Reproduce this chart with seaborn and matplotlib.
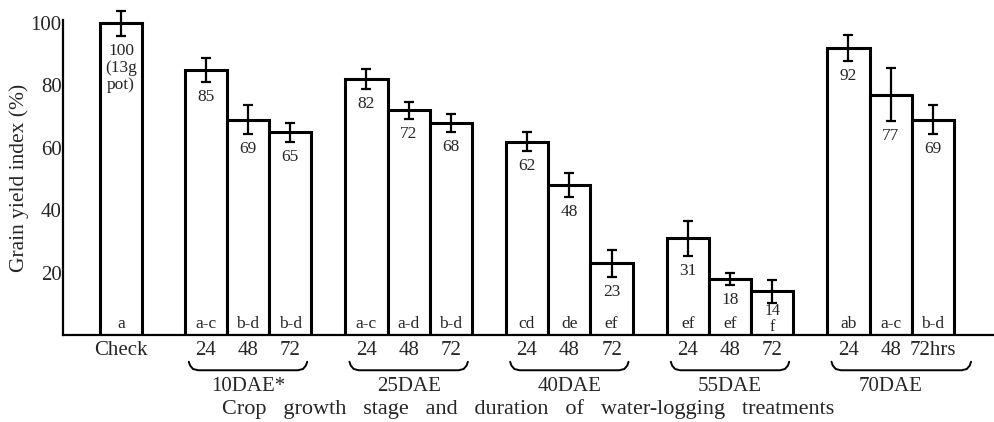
import numpy as np
import pandas as pd
import matplotlib
matplotlib.use('Agg')
import matplotlib.pyplot as plt
import matplotlib.transforms as mtransforms
import seaborn as sns

# Data
stages = ['10DAE*', '25DAE', '40DAE', '55DAE', '70DAE']
hours = ['24', '48', '72']
tick_labels = ['Check',
               '24', '48', '72',
               '24', '48', '72',
               '24', '48', '72',
               '24', '48', '72',
               '24', '48', '72hrs']
yield_index = [100, 85, 69, 65, 82, 72, 68, 62, 48, 23, 31, 18, 14, 92, 77, 69]
yield_err = [4.0, 3.8, 4.6, 3.0, 3.2, 2.8, 2.8, 3.0, 3.9, 4.4, 5.6, 2.0, 3.7, 4.3, 8.5, 4.7]
value_labels = ['100\n(13g\npot)', '85', '69', '65', '82', '72', '68', '62', '48', '23',
                '31', '18', '14', '92', '77', '69']
letters = ['a', 'a-c', 'b-d', 'b-d', 'a-c', 'a-d', 'b-d', 'cd', 'de', 'ef',
           'ef', 'ef', 'f', 'ab', 'a-c', 'b-d']

# layout: check bar, then 5 groups of 3 contiguous bars
check_gap = 1.0
group_gap = 0.8
x_pos = [0.0]
first = 0.5 + check_gap + 0.5
for g in range(len(stages)):
    for j in range(len(hours)):
        x_pos.append(first + g * (len(hours) + group_gap) + j)

df = pd.DataFrame({'x': x_pos, 'y': yield_index})

sns.set_style('white')
plt.rcParams['font.family'] = ['Liberation Serif', 'DejaVu Serif']

fig = plt.figure(figsize=(9.94, 4.22), dpi=100)
ax = fig.add_axes([0.0634, 0.2062, 0.9356, 0.7464])

sns.barplot(data=df, x='x', y='y', native_scale=True, width=1.0, errorbar=None,
            color='white', edgecolor='black', linewidth=2.2, ax=ax)

ax.errorbar(x_pos, yield_index, yerr=yield_err, fmt='none', ecolor='black',
            elinewidth=1.6, capsize=3.8, capthick=1.6, clip_on=False, zorder=5)

for x, v, e, lab, let in zip(x_pos, yield_index, yield_err, value_labels, letters):
    if v <= 15:
        # very short bar: value and letter are stacked tightly
        ax.annotate(lab, (x, v - e), xytext=(0, 0), textcoords='offset points',
                    ha='center', va='top', fontsize=11.5)
        ax.text(x, 0.0, let, ha='center', va='bottom', fontsize=11.5)
    else:
        ax.annotate(lab, (x, v - e), xytext=(0, -5), textcoords='offset points',
                    ha='center', va='top', fontsize=12.5, linespacing=1.1)
        ax.text(x, 3.4, let, ha='center', va='center', fontsize=12.5)

ax.set_xlim(-1.375, 20.62)
ax.set_ylim(0, 101)
ax.set_xticks(x_pos)
ax.set_xticklabels(tick_labels, fontsize=15)
ax.set_yticks([20, 40, 60, 80, 100])
ax.set_yticklabels(['20', '40', '60', '80', '100'], fontsize=15)
ax.tick_params(axis='x', length=0, pad=4)
ax.tick_params(axis='y', direction='in', length=7, width=1.6, pad=1)
ax.set_xlabel('')
ax.set_ylabel('Grain yield index (%)', fontsize=15.5, labelpad=1)

for s in ['top', 'right']:
    ax.spines[s].set_visible(False)
for s in ['left', 'bottom']:
    ax.spines[s].set_linewidth(1.6)
    ax.spines[s].set_color('black')

# braces and group names under the tick labels
trans = mtransforms.blended_transform_factory(ax.transData, ax.transAxes)
y_top, y_bot = -0.085, -0.112
for g, name in enumerate(stages):
    x0 = x_pos[1 + g * 3] - 0.4
    x1 = x_pos[3 + g * 3] + 0.4
    if g == len(stages) - 1:
        x1 += 0.5
    bx = [x0, x0 + 0.03, x0 + 0.1, x0 + 0.22, x1 - 0.22, x1 - 0.1, x1 - 0.03, x1]
    by = [y_top, y_bot + 0.015, y_bot + 0.004, y_bot, y_bot, y_bot + 0.004, y_bot + 0.015, y_top]
    ax.plot(bx, by, color='black', lw=1.4, transform=trans, clip_on=False)
    ax.text((x_pos[1 + g * 3] + x_pos[3 + g * 3]) / 2, -0.162, name, transform=trans,
            ha='center', va='center', fontsize=15)

ax.text(0.5, -0.235, 'Crop   growth   stage   and   duration   of   water-logging   treatments',
        transform=ax.transAxes, ha='center', va='center', fontsize=16)

fig.savefig('out.png', dpi=100)
